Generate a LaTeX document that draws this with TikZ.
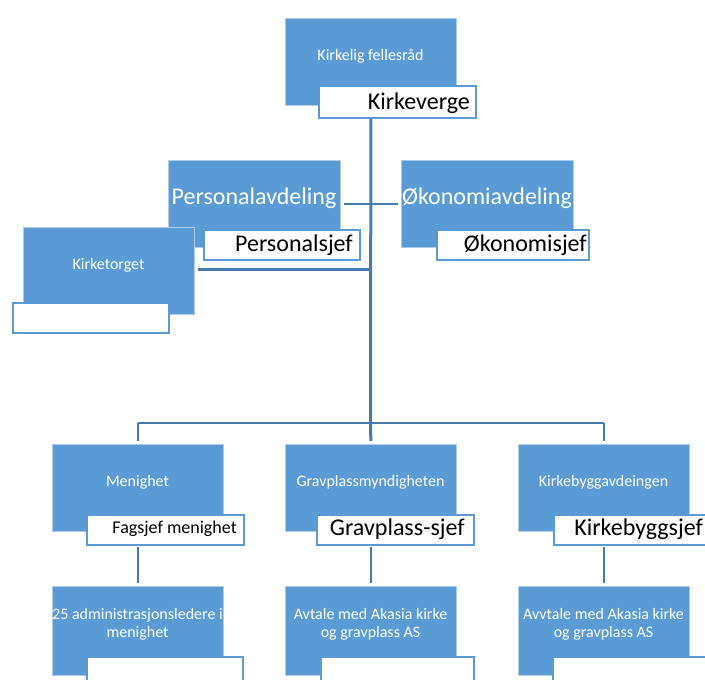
\documentclass[tikz,border=0pt]{standalone}
\usepackage{fontspec}
\setmainfont{Carlito}
\definecolor{boxblue}{RGB}{91,155,213}
\definecolor{lineblue}{RGB}{70,122,178}
\definecolor{edgeblue}{RGB}{175,205,235}
\newcommand{\smallfs}{\fontsize{16}{18}\selectfont}
\newcommand{\midfs}{\fontsize{18}{21}\selectfont}
\newcommand{\bigfs}{\fontsize{24}{28}\selectfont}
\begin{document}
\begin{tikzpicture}[x=1pt,y=-1pt,
  bluebox/.style={fill=boxblue, draw=edgeblue, line width=0.8pt, anchor=north west,
    inner sep=0pt, minimum width=171pt, minimum height=87pt},
  whitebox/.style={fill=white, draw=boxblue, line width=2pt, anchor=north west,
    inner sep=0pt, minimum height=30pt},
  bluetext/.style={text=white, inner sep=0pt, align=center, font=\smallfs},
  bigblue/.style={text=white, inner sep=0pt, font=\bigfs},
  roletext/.style={text=black, inner sep=0pt, anchor=east, font=\bigfs},
  spine/.style={draw=lineblue, line width=3pt},
  conn/.style={draw=lineblue, line width=2.5pt}
]
\useasboundingbox (0,0) rectangle (705,680);
\clip (0,0) rectangle (705,680);

% top
\node[bluebox] (fr) at (285,18) {};
\node[bluetext] (frt) at (370.5,56) {Kirkelig fellesråd};
\node[whitebox, minimum width=157pt, minimum height=32pt] (kv) at (318,85) {};
\node[roletext] (kvt) at (470,103) {Kirkeverge};

% staff
\node[bluebox, minimum width=172pt] (pa) at (168,160) {};
\node[bigblue] (pat) at (254,198) {Personalavdeling};
\node[whitebox, minimum width=156pt] (ps) at (203,229) {};
\node[roletext] (pst) at (353,245) {Personalsjef};

\node[bluebox, minimum width=172pt] (oa) at (401,160) {};
\node[bigblue] (oat) at (487,198) {Økonomiavdeling};
\node[whitebox, minimum width=152pt] (os) at (436,229) {};
\node[roletext] (ost) at (587,245) {Økonomisjef};

\node[bluebox] (kt) at (23,227) {};
\node[bluetext] (ktt) at (108.5,265) {Kirketorget};
\node[whitebox, minimum width=156pt] (kw) at (12,302) {};

% connectors top
\coordinate (top) at (fr.south |- kv.south);
\coordinate (bar) at (370.5,423);
\draw[conn, shorten <=3pt, shorten >=3pt] (pa.east) -- (oa.west);
\draw[conn, shorten <=3pt] ([yshift=1.5pt]kt.east) -- ([yshift=1.5pt]kt.east -| bar);

% level 2
\node[bluebox] (me) at (52,444) {};
\node[bluetext] (met) at (137.5,482) {Menighet};
\node[whitebox, minimum width=157pt] (fm) at (86,514) {};
\node[roletext, font=\midfs] (fmt) at (237,529) {Fagsjef menighet};

\node[bluebox] (gm) at (285,444) {};
\node[bluetext] (gmt) at (370.5,482) {Gravplassmyndigheten};
\node[whitebox, minimum width=157pt] (gs) at (316,514) {};
\node[roletext] (gst) at (465,529) {Gravplass-sjef};

\node[bluebox] (kb) at (518,444) {};
\node[bluetext] (kbt) at (603.5,482) {Kirkebyggavdeingen};
\node[whitebox, minimum width=162pt] (ks) at (553,514) {};
\node[roletext] (kst) at (703,529) {Kirkebyggsjef};

% bar connectors
\draw[spine, shorten >=3pt] (top) -- (bar) -- (gm.north);
\draw[conn] (me.north |- bar) -- (kb.north |- bar);
\draw[conn, shorten >=3pt] (me.north |- bar) -- (me.north);
\draw[conn, shorten >=3pt] (kb.north |- bar) -- (kb.north);

% level 3
\node[bluebox, minimum height=89pt] (ad) at (52,586) {};
\node[bluetext] (adt) at (137.5,624) {25 administrasjonsledere i\\menighet};
\node[whitebox, minimum width=156pt] (adw) at (86,656) {};

\node[bluebox, minimum height=89pt] (ak) at (285,586) {};
\node[bluetext] (akt) at (370.5,624) {Avtale med Akasia kirke\\og gravplass AS};
\node[whitebox, minimum width=153pt] (akw) at (320,656) {};

\node[bluebox, minimum height=89pt] (av) at (518,586) {};
\node[bluetext] (avt) at (603.5,624) {Avvtale med Akasia kirke\\og gravplass AS};
\node[whitebox, minimum width=156pt] (avw) at (552,656) {};

\draw[conn, shorten <=1pt, shorten >=3pt] (me.center |- fm.south) -- (ad.north);
\draw[conn, shorten <=1pt, shorten >=3pt] (gm.center |- gs.south) -- (ak.north);
\draw[conn, shorten <=1pt, shorten >=3pt] (kb.center |- ks.south) -- (av.north);
\end{tikzpicture}
\end{document}
